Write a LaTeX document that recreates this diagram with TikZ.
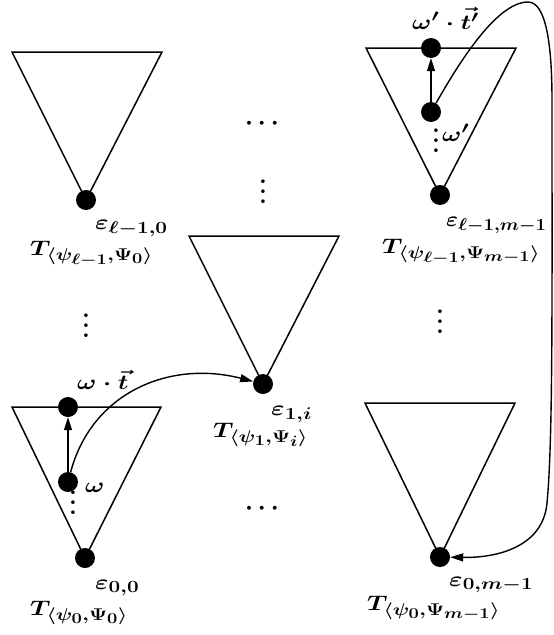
\RequirePackage{fix-cm}
\documentclass[tikz,border=0pt]{standalone}
\usepackage{graphicx}
\usetikzlibrary{arrows.meta}
\DeclareMathSizes{21}{21}{17}{15}
\newcommand\sm[2][1.22]{\scalebox{#1}[1]{\boldmath$#2$}}
\newcommand\myvd{\vbox{\baselineskip=0.4em\lineskiplimit=0pt\hbox{.}\hbox{.}\hbox{.}}}
\newcommand\myhd{\mbox{\boldmath$\cdots$}}
\begin{document}
\begin{tikzpicture}[x=1pt,y=-1pt,
  tri/.style={draw, line width=1.5pt, line join=miter},
  dot/.style={circle, fill=black, inner sep=0pt, minimum size=20pt},
  lab/.style={inner sep=0pt, anchor=base west, font=\fontsize{21}{25}\selectfont},
  vd/.style={inner sep=0pt, anchor=center, font=\fontsize{25}{30}\selectfont\bfseries},
  hd/.style={inner sep=0pt, anchor=base, font=\fontsize{25}{30}\selectfont},
  arr/.style={line width=1.4pt, -{Triangle[length=13pt,width=8pt]}}]
\useasboundingbox (0,0) rectangle (554,635);
% triangles
\draw[tri] (12,52) -- (162,52) -- (86,200) -- cycle;
\draw[tri] (189,236) -- (339,236) -- (263,384) -- cycle;
\draw[tri] (366,48) -- (516,48) -- (440,195) -- cycle;
\draw[tri] (12,407) -- (161,407) -- (85,558) -- cycle;
\draw[tri] (365,403) -- (515,403) -- (440,557) -- cycle;
% dots
\node[dot] (eA) at (86,200) {};
\node[dot] (eB) at (440,195) {};
\node[dot] (eC) at (263,384) {};
\node[dot] (eD) at (85,558) {};
\node[dot] (eE) at (440,557) {};
\node[dot] (wt) at (68,407) {};
\node[dot] (w) at (68,482) {};
\node[dot] (wtp) at (431,48) {};
\node[dot] (wp) at (431,112) {};
% labels
\node[lab] (lEA) at (95,229) {\sm{\varepsilon_{\ell-1,0}}};
\node[lab] (lTA) at (30,255) {\sm{T_{\langle\psi_{\ell-1},\Psi_0\rangle}}};
\node[lab] (lEB) at (446,226) {\sm[1.09]{\varepsilon_{\ell-1,m-1}}};
\node[lab] (lTB) at (382,253) {\sm{T_{\langle\psi_{\ell-1},\Psi_{m-1}\rangle}}};
\node[lab] (lEC) at (271,415) {\sm{\varepsilon_{1,i}}};
\node[lab] (lTC) at (213,437) {\sm{T_{\langle\psi_1,\Psi_i\rangle}}};
\node[lab] (lED) at (95,589) {\sm{\varepsilon_{0,0}}};
\node[lab] (lTD) at (30,615) {\sm{T_{\langle\psi_0,\Psi_0\rangle}}};
\node[lab] (lEE) at (449,586) {\sm{\varepsilon_{0,m-1}}};
\node[lab] (lTE) at (367,610) {\sm{T_{\langle\psi_0,\Psi_{m-1}\rangle}}};
\node[lab] (lw) at (85,492) {\sm{\omega}};
\node[lab] (lwt) at (77,389) {\sm{\omega\cdot\vec{t}}};
\node[lab] (lwp) at (442,141) {\sm{\omega'}};
\node[lab] (lwtp) at (412,29) {\sm{\omega'\cdot\vec{t'}}};
% ellipses
\node[hd] (h1) at (262,129) {\myhd};
\node[hd] (h2) at (262,514) {\myhd};
\node[vd] (v1) at (263,192) {\myvd};
\node[vd] (v2) at (86,326) {\myvd};
\node[vd] (v3) at (440,322) {\myvd};
\node[vd] (v4) at (73,503) {\myvd};
\node[vd] (v5) at (436,141) {\myvd};
% connectors
\draw[arr] (w) -- (wt);
\draw[arr] (wp) -- (wtp);
\draw[arr] (w) .. controls (92,392) and (170,360) .. (eC);
\draw[arr] (wp) .. controls (455,70) and (495,2) .. (528,2)
  .. controls (545,2) and (552,40) .. (552,100)
  .. controls (552,300) and (553,440) .. (547,503)
  .. controls (543,548) and (495,558) .. (eE);
\end{tikzpicture}
\end{document}
